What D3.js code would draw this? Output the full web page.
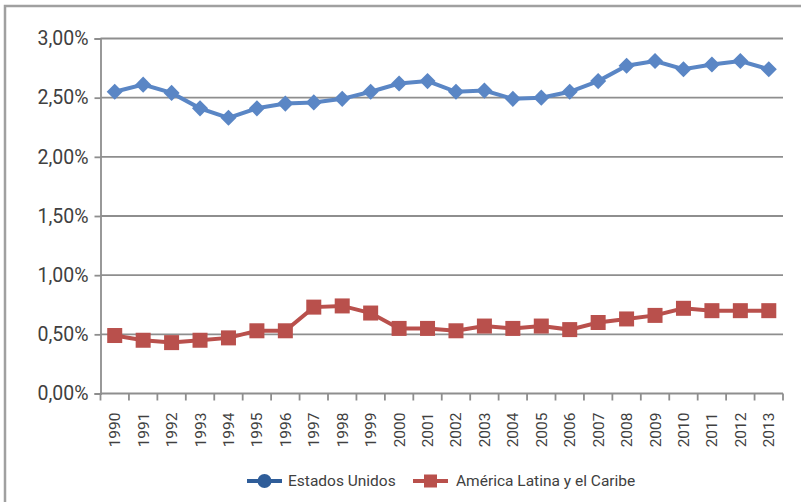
<!DOCTYPE html>
<html>
<head>
<meta charset="utf-8">
<script src="https://cdn.jsdelivr.net/npm/d3@7"></script>
<style>
  body { margin: 0; background: #fff; }
  svg { display: block; }
</style>
</head>
<body>
<script>
// --- data ---
var years = ["1990","1991","1992","1993","1994","1995","1996","1997","1998","1999","2000","2001",
             "2002","2003","2004","2005","2006","2007","2008","2009","2010","2011","2012","2013"];
var estadosUnidos = [2.55, 2.61, 2.54, 2.41, 2.33, 2.41, 2.45, 2.46, 2.49, 2.55, 2.62, 2.64,
                     2.55, 2.56, 2.49, 2.50, 2.55, 2.64, 2.77, 2.81, 2.74, 2.78, 2.81, 2.74];
var americaLatina = [0.49, 0.45, 0.43, 0.45, 0.47, 0.53, 0.53, 0.73, 0.74, 0.68, 0.55, 0.55,
                     0.53, 0.57, 0.55, 0.57, 0.54, 0.60, 0.63, 0.66, 0.72, 0.70, 0.70, 0.70];
var yTicks = [0, 0.5, 1.0, 1.5, 2.0, 2.5, 3.0];

var blue = "#5a86c5",
    blueDark = "#2f5d99",
    red = "#b9504c",
    grid = "#8e8e8e",
    textCol = "#404040",
    font = "Roboto, sans-serif";

var width = 801, height = 502;
var margin = {top: 38.5, right: 18, bottom: 109, left: 100.5};

var svg = d3.select("body").append("svg")
    .attr("width", width)
    .attr("height", height);

// --- outer frame (only left and top edges are visible) ---
svg.append("path")
    .attr("d", "M5,502 V6 H801")
    .attr("fill", "none")
    .attr("stroke", "#a0a0a0")
    .attr("stroke-width", 2.5);

var x = d3.scaleBand()
    .domain(years)
    .range([margin.left, width - margin.right]);

var y = d3.scaleLinear()
    .domain([0, 3])
    .range([height - margin.bottom + 0.5, margin.top]);

// --- gridlines ---
svg.append("g")
    .selectAll("line")
    .data(yTicks.filter(function(d) { return d > 0; }))
    .join("line")
    .attr("x1", margin.left)
    .attr("x2", width - margin.right)
    .attr("y1", function(d) { return y(d); })
    .attr("y2", function(d) { return y(d); })
    .attr("stroke", grid)
    .attr("stroke-width", 1.8);

// --- y axis ---
var yAxis = svg.append("g")
    .attr("transform", "translate(" + margin.left + ",0)")
    .call(d3.axisLeft(y)
        .tickValues(yTicks)
        .tickSize(6)
        .tickPadding(6)
        .tickFormat(function(d) { return d3.format(".2f")(d).replace(".", ",") + "%"; }));
yAxis.select(".domain").attr("stroke", grid).attr("stroke-width", 1.8);
yAxis.selectAll(".tick line").attr("stroke", grid).attr("stroke-width", 1.8);
yAxis.selectAll("text")
    .attr("font-family", font)
    .attr("font-size", "19.5px")
    .attr("fill", textCol);

// --- x axis ---
var xAxisY = y(0);
var xg = svg.append("g").attr("transform", "translate(0," + xAxisY + ")");
xg.append("line")
    .attr("x1", margin.left).attr("x2", width - margin.right)
    .attr("stroke", grid).attr("stroke-width", 1.8);
var edges = years.map(function(d) { return x(d); }).concat([x(years[years.length - 1]) + x.bandwidth()]);
xg.selectAll("line.tk")
    .data(edges)
    .join("line")
    .attr("class", "tk")
    .attr("x1", function(d) { return d; })
    .attr("x2", function(d) { return d; })
    .attr("y1", 0).attr("y2", 7)
    .attr("stroke", grid).attr("stroke-width", 1.8);
xg.selectAll("text")
    .data(years)
    .join("text")
    .text(function(d) { return d; })
    .attr("transform", function(d) {
        return "translate(" + (x(d) + x.bandwidth() / 2 + 5.5) + ",19) rotate(-90)";
    })
    .attr("text-anchor", "end")
    .attr("font-family", font)
    .attr("font-size", "15.5px")
    .attr("fill", textCol);

// --- series ---
var line = d3.line()
    .x(function(d, i) { return x(years[i]) + x.bandwidth() / 2; })
    .y(function(d) { return y(d); });

svg.append("path")
    .datum(americaLatina)
    .attr("d", line)
    .attr("fill", "none")
    .attr("stroke", red)
    .attr("stroke-width", 4);

svg.append("g")
    .selectAll("rect")
    .data(americaLatina)
    .join("rect")
    .attr("x", function(d, i) { return x(years[i]) + x.bandwidth() / 2 - 7.5; })
    .attr("y", function(d) { return y(d) - 7.5; })
    .attr("width", 15)
    .attr("height", 15)
    .attr("fill", red);

svg.append("path")
    .datum(estadosUnidos)
    .attr("d", line)
    .attr("fill", "none")
    .attr("stroke", blue)
    .attr("stroke-width", 4);

svg.append("g")
    .selectAll("path")
    .data(estadosUnidos)
    .join("path")
    .attr("d", d3.symbol(d3.symbolSquare, 130))
    .attr("transform", function(d, i) {
        return "translate(" + (x(years[i]) + x.bandwidth() / 2) + "," + y(d) + ") rotate(45)";
    })
    .attr("fill", blue);

// --- legend ---
var lg = svg.append("g").attr("transform", "translate(0,481)");
lg.append("line").attr("x1", 247).attr("x2", 282)
    .attr("stroke", blueDark).attr("stroke-width", 4);
lg.append("circle").attr("cx", 264.5).attr("cy", 0).attr("r", 7).attr("fill", blueDark);
lg.append("text").text("Estados Unidos")
    .attr("x", 288).attr("y", 0).attr("dy", "0.35em")
    .attr("font-family", font).attr("font-size", "15.5px").attr("fill", textCol);

lg.append("line").attr("x1", 413).attr("x2", 448)
    .attr("stroke", red).attr("stroke-width", 4);
lg.append("rect").attr("x", 424).attr("y", -6.5).attr("width", 13).attr("height", 13).attr("fill", red);
lg.append("text").text("América Latina y el Caribe")
    .attr("x", 456).attr("y", 0).attr("dy", "0.35em")
    .attr("font-family", font).attr("font-size", "15.5px").attr("fill", textCol);
</script>
</body>
</html>
